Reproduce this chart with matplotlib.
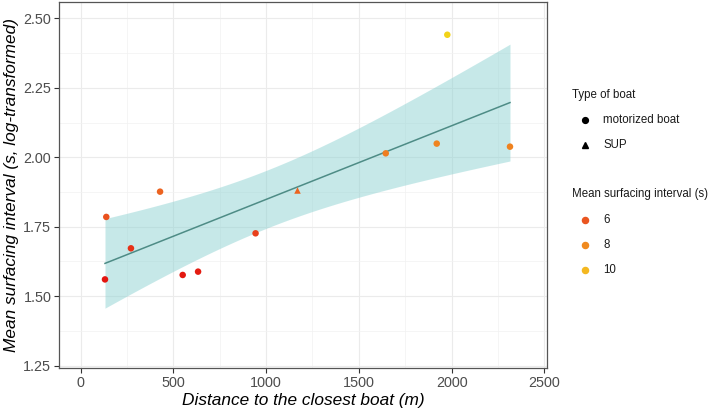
import numpy as np
import matplotlib
matplotlib.use("Agg")
import matplotlib.pyplot as plt
from matplotlib.colors import LinearSegmentedColormap, Normalize
from matplotlib.lines import Line2D

plt.rcParams['font.family'] = ['Liberation Sans', 'DejaVu Sans']

# ---- data ----
distance = [131, 138, 271, 428, 550, 633, 943, 1165, 1645, 1920, 1977, 2315]
log_interval = [1.560, 1.785, 1.672, 1.876, 1.576, 1.588, 1.726, 1.883, 2.014, 2.049, 2.441, 2.038]
boat_type = ['motorized boat'] * 7 + ['SUP'] + ['motorized boat'] * 4
x_ticks = [0, 500, 1000, 1500, 2000, 2500]
y_ticks = [1.25, 1.50, 1.75, 2.00, 2.25, 2.50]
legend_shapes = ['motorized boat', 'SUP']
legend_colour_values = [6, 8, 10]

x = np.array(distance, dtype=float)
y = np.array(log_interval, dtype=float)
interval_s = np.exp(y)  # colour variable: mean surfacing interval (s)

cmap = LinearSegmentedColormap.from_list(
    'redyellow',
    [(0.0, '#E3150F'), (0.185, '#EA5520'), (0.482, '#F08A1F'),
     (0.78, '#F4B820'), (1.0, '#F2D318')])
norm = Normalize(vmin=interval_s.min(), vmax=interval_s.max())

fig = plt.figure(figsize=(7.09, 4.12), dpi=100)
ax = fig.add_axes([59 / 709, 1 - 368 / 412, (546.7 - 59) / 709, (368 - 1.7) / 412])

# ---- linear fit with 95% CI (like geom_smooth(method='lm')) ----
n = len(x)
b1, b0 = np.polyfit(x, y, 1)
resid = y - (b0 + b1 * x)
s = np.sqrt(np.sum(resid ** 2) / (n - 2))
sxx = np.sum((x - x.mean()) ** 2)
xs = np.linspace(x.min(), x.max(), 200)
fit = b0 + b1 * xs
se = s * np.sqrt(1 / n + (xs - x.mean()) ** 2 / sxx)
t975 = 2.228  # t quantile, df = 10
ax.fill_between(xs, fit - t975 * se, fit + t975 * se, color='#8FD3D3', alpha=0.5,
                linewidth=0, zorder=2)
ax.plot(xs, fit, color='#4E8C86', lw=1.1, zorder=3)

# ---- points ----
markers = {'motorized boat': 'o', 'SUP': '^'}
for bt in legend_shapes:
    m = np.array([b == bt for b in boat_type])
    ax.scatter(x[m], y[m], c=interval_s[m], cmap=cmap, norm=norm,
               marker=markers[bt], s=22, linewidths=0, zorder=4)

# ---- axes styling ----
ax.set_xlim(-117, 2513)
ax.set_ylim(1.241, 2.56)
ax.set_xticks(x_ticks)
ax.set_yticks(y_ticks)
ax.set_yticklabels([f'{v:.2f}' for v in y_ticks])
ax.set_xticks([250, 750, 1250, 1750, 2250], minor=True)
ax.set_yticks([1.375, 1.625, 1.875, 2.125, 2.375], minor=True)
ax.grid(True, which='major', color='#EBEBEB', lw=0.8, zorder=0)
ax.grid(True, which='minor', color='#F2F2F2', lw=0.5, zorder=0)
ax.set_axisbelow(True)
ax.tick_params(which='minor', length=0)
ax.tick_params(which='major', length=3.5, width=0.8, color='#333333',
               labelsize=10.4, labelcolor='#4D4D4D', pad=2)
for sp in ax.spines.values():
    sp.set_color('#555555')
    sp.set_linewidth(0.9)

ax.set_xlabel('Distance to the closest boat (m)', fontsize=12.4, style='italic',
              color='black', labelpad=2.5)
ax.set_ylabel('Mean surfacing interval (s, log-transformed)', fontsize=12.4,
              style='italic', color='black', labelpad=3)

# ---- legends (manual, ggplot-like) ----
def fx(px):
    return px / 709

def fy(py):
    return 1 - py / 412

fig.text(fx(572), fy(95), 'Type of boat', fontsize=8.3, va='center', ha='left',
         color='#1A1A1A')
shape_rows = [120, 145]
for lab, py in zip(legend_shapes, shape_rows):
    fig.add_artist(Line2D([fx(585)], [fy(py)], marker=markers[lab], color='black',
                          markersize=4.2 if lab == 'motorized boat' else 4.6,
                          linestyle='none', transform=fig.transFigure))
    fig.text(fx(603), fy(py), lab, fontsize=8.3, va='center', ha='left',
             color='#1A1A1A')

fig.text(fx(572), fy(194.5), 'Mean surfacing interval (s)', fontsize=8.3,
         va='center', ha='left', color='#1A1A1A')
colour_rows = [220, 245, 270]
for val, py in zip(legend_colour_values, colour_rows):
    fig.add_artist(Line2D([fx(585)], [fy(py)], marker='o', color=cmap(norm(val)),
                          markersize=4.4, linestyle='none', transform=fig.transFigure))
    fig.text(fx(603), fy(py), str(val), fontsize=8.3, va='center', ha='left',
             color='#1A1A1A')

fig.savefig('out.png', dpi=100)
